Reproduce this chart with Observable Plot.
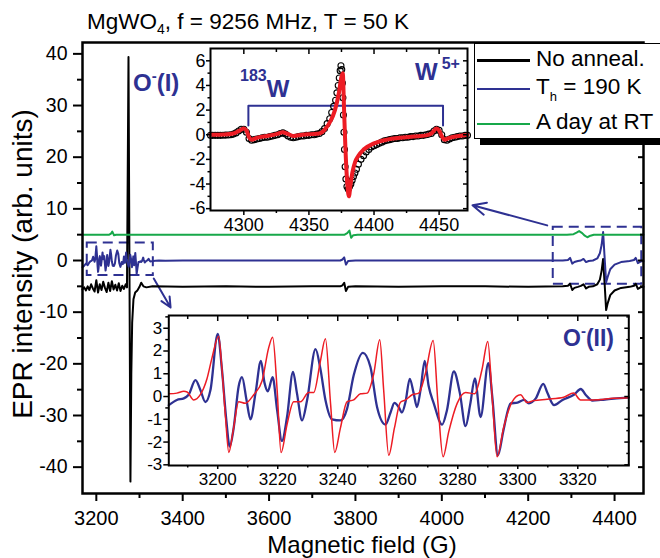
<!DOCTYPE html>
<html>
<head>
<meta charset="utf-8">
<script src="https://cdn.jsdelivr.net/npm/d3@7"></script>
<script src="https://cdn.jsdelivr.net/npm/@observablehq/plot@0.6"></script>
<style>
  html, body { margin: 0; padding: 0; background: #fff; }
  #chart { position: relative; width: 660px; height: 558px; overflow: hidden; background: #fff;
           font-family: "Liberation Sans", Arial, Helvetica, sans-serif; color: #000; }
  #chart svg { position: absolute; }
  .ov { position: absolute; white-space: nowrap; line-height: 1; z-index: 5; }
  .navy { color: #2e3192; font-weight: bold; }
  .legline { position: absolute; height: 2.5px; z-index: 6; }
</style>
</head>
<body>
<div id="chart"></div>
<script>
// ---------------- main panel ----------------
const xMajor = [3200, 3400, 3600, 3800, 4000, 4200, 4400];
const xMinor = [3300, 3500, 3700, 3900, 4100, 4300];
const yMajor = [-40, -30, -20, -10, 0, 10, 20, 30, 40];
const yMinor = [-35, -25, -15, -5, 5, 15, 25, 35];

const seriesNames = ["No anneal.", "T", "A day at RT"];

const blackField = [3168, 3172, 3176, 3180, 3184, 3188, 3192, 3196, 3200, 3204, 3208, 3212, 3216, 3220, 3224, 3228, 3232, 3236, 3240, 3244, 3248, 3252, 3256, 3260, 3264, 3268, 3271, 3274.5, 3279, 3281, 3283, 3286, 3290, 3295, 3300, 3304, 3309, 3316, 3330, 3400, 3500, 3600, 3700, 3765, 3770, 3774, 3778, 3783, 3800, 3900, 4000, 4100, 4200, 4280, 4292, 4297, 4302, 4307, 4315, 4322, 4328, 4334, 4340, 4350, 4360, 4366, 4370, 4373.5, 4377, 4380.5, 4384, 4390, 4400, 4415, 4435, 4445, 4449, 4454, 4460, 4467];
const blackSignal = [-5.6, -5.2, -5.8, -5.0, -5.7, -4.6, -5.4, -6.0, -3.8, -6.2, -4.6, -5.7, -4.1, -5.3, -6.1, -4.3, -5.9, -4.0, -5.6, -4.7, -5.8, -4.4, -5.9, -4.9, -5.5, -4.6, -5.2, 39.4, -42.8, -22, -12, -7.5, -6.2, -5.8, -5.1, -4.3, -5.0, -5.2, -5.0, -5.1, -5.0, -5.1, -5.0, -5.0, -4.8, -4.3, -5.9, -5.1, -5.0, -5.1, -5.0, -5.0, -5.1, -5.0, -4.9, -4.5, -5.7, -5.3, -5.1, -4.9, -4.6, -5.4, -5.1, -5.0, -4.6, -3.7, -2.0, 0.3, -4.5, -9.6, -8.3, -6.7, -5.8, -5.3, -5.1, -4.9, -4.5, -5.5, -5.2, -5.1];

const blueLeadField = [3168, 3172, 3176, 3180];
const blueLeadSignal = [-1.3, -1.0, -0.6, -0.9];
const blueTailField = [3345, 3360, 3400, 3500, 3600, 3700, 3765, 3770, 3774, 3778, 3783, 3800, 3900, 4000, 4100, 4200, 4280, 4292, 4297, 4302, 4307, 4315, 4322, 4328, 4334, 4340, 4350, 4360, 4366, 4370, 4373.5, 4377, 4380.5, 4384, 4390, 4400, 4415, 4435, 4445, 4449, 4454, 4460, 4467];
const blueTailSignal = [0.0, -0.05, 0.0, 0.0, 0.0, 0.0, 0.0, 0.2, 0.6, -0.8, -0.1, 0.0, 0.0, 0.0, 0.0, 0.0, 0.0, 0.1, 0.5, -0.6, -0.3, -0.1, 0.0, 0.3, -0.3, -0.1, 0.0, 0.4, 1.4, 3.0, 5.5, 0.5, -4.2, -3.2, -1.7, -0.8, -0.3, -0.1, 0.1, 0.5, -0.5, -0.2, -0.1];

const greenField = [3168, 3200, 3230, 3234, 3237, 3241, 3246, 3300, 3400, 3500, 3600, 3700, 3775, 3781, 3786, 3790, 3795, 3805, 3900, 4000, 4100, 4200, 4290, 4305, 4312, 4318, 4325, 4331, 4337, 4344, 4352, 4400, 4467];
const greenSignal = [5.0, 5.0, 5.0, 5.2, 5.6, 4.9, 5.0, 5.0, 5.0, 5.0, 5.0, 5.0, 5.0, 5.3, 5.8, 4.4, 4.9, 5.0, 5.0, 5.0, 5.0, 5.0, 5.0, 5.1, 5.4, 5.7, 5.3, 4.8, 4.5, 4.8, 5.0, 5.0, 5.0];

// dashed zoom boxes and arrows (data coordinates of the main panel)
const boxX1 = [3179, 4258];
const boxX2 = [3332, 4463];
const boxY1 = [-2.9, -4.6];
const boxY2 = [3.4, 6.45];
const arrowX1 = [3333, 4244];
const arrowY1 = [-3.5, 6.8];
const arrowX2 = [3372, 4071];
const arrowY2 = [-9.1, 10.7];

// ---------------- upper inset (W5+) ----------------
const upXMajor = [4300, 4350, 4400, 4450];
const upXMinor = [4325, 4375, 4425];
const upYMajor = [-6, -4, -2, 0, 2, 4, 6];
const upYMinor = [-5, -3, -1, 1, 3, 5];

const expField = [4274.4, 4276, 4278, 4280, 4282, 4284, 4286, 4288, 4290, 4292, 4294, 4296, 4298, 4300, 4302, 4304, 4306, 4308, 4310, 4312, 4314, 4316, 4318, 4320, 4322, 4324, 4326, 4328, 4330, 4332, 4334, 4336, 4338, 4340, 4342, 4344, 4346, 4348, 4350, 4352, 4354, 4356, 4358, 4360, 4362, 4364, 4366, 4367.5, 4369, 4370.5, 4371.5, 4372.5, 4373.3, 4374, 4374.6, 4375.2, 4375.7, 4376.1, 4376.5, 4376.9, 4377.3, 4377.8, 4378.4, 4379.2, 4380.2, 4381.2, 4382.2, 4383.2, 4384.2, 4385.3, 4386.5, 4388, 4390, 4392, 4394, 4396, 4398, 4400, 4402, 4404, 4406, 4408, 4410, 4412, 4414, 4416, 4418, 4420, 4422, 4424, 4426, 4428, 4430, 4432, 4434, 4436, 4438, 4440, 4442, 4444, 4446, 4448, 4450, 4452, 4454, 4456, 4458, 4460, 4462, 4464, 4466, 4468, 4470, 4471.8];
const expSignal = [-0.05, -0.05, -0.05, -0.05, -0.05, -0.04, -0.03, -0.02, 0.0, 0.05, 0.15, 0.3, 0.45, 0.45, 0.2, -0.3, -0.45, -0.4, -0.35, -0.3, -0.25, -0.2, -0.2, -0.15, -0.1, -0.05, 0.0, 0.1, 0.15, 0.05, -0.1, -0.2, -0.25, -0.2, -0.15, -0.1, -0.1, -0.05, -0.05, 0.0, 0.0, 0.05, 0.1, 0.25, 0.5, 0.9, 1.3, 1.8, 2.3, 2.8, 3.4, 4.0, 4.6, 5.2, 5.6, 5.3, 4.2, 3.0, 1.6, 0.2, -1.2, -2.6, -3.6, -4.2, -4.4, -4.2, -4.0, -3.7, -3.4, -3.1, -2.8, -2.4, -2.0, -1.7, -1.4, -1.2, -1.0, -0.9, -0.8, -0.7, -0.6, -0.5, -0.45, -0.4, -0.35, -0.3, -0.3, -0.25, -0.25, -0.2, -0.2, -0.15, -0.15, -0.1, -0.1, -0.05, -0.05, 0.0, 0.05, 0.1, 0.3, 0.45, 0.35, 0.0, -0.4, -0.45, -0.35, -0.25, -0.2, -0.15, -0.1, -0.1, -0.05, -0.05];

const fitField = [4274.4, 4285, 4292, 4297, 4300, 4302, 4304, 4306, 4310, 4318, 4325, 4330, 4333, 4338, 4345, 4352, 4358, 4362, 4366, 4370, 4373, 4375, 4376, 4377, 4378, 4379.5, 4380.7, 4382, 4383.5, 4385.5, 4388, 4392, 4400, 4410, 4420, 4430, 4440, 4444, 4448, 4450, 4452, 4454, 4458, 4465, 4471.8];
const fitSignal = [0.0, 0.02, 0.1, 0.35, 0.5, 0.35, -0.2, -0.4, -0.25, -0.1, 0.05, 0.2, 0.1, -0.1, 0.0, 0.05, 0.1, 0.4, 1.0, 2.0, 3.4, 4.7, 5.0, 2.0, -1.0, -4.0, -5.0, -4.0, -3.0, -2.2, -1.7, -1.2, -0.7, -0.4, -0.25, -0.15, -0.05, 0.1, 0.5, 0.35, -0.1, -0.4, -0.25, -0.1, 0.0];

const bracketField = [4303.5, 4303.5, 4453, 4453];
const bracketSignal = [0.75, 2.35, 2.35, 0.75];

// ---------------- lower inset (O-(II)) ----------------
const loXMajor = [3200, 3220, 3240, 3260, 3280, 3300, 3320];
const loXMinor = [3190, 3210, 3230, 3250, 3270, 3290, 3310, 3330];
const loYMajor = [-3, -2, -1, 0, 1, 2, 3];
const loYMinor = [-2.5, -1.5, -0.5, 0.5, 1.5, 2.5, 3.5];

const insetBlueField = [3183.7, 3186.4, 3188.7, 3190.3, 3192.6, 3194.2, 3195.9, 3197.6, 3200, 3201.4, 3202.9, 3204, 3205.3, 3207, 3208.1, 3209.6, 3210.9, 3212.6, 3214.4, 3215.6, 3216.7, 3218.3, 3219.8, 3221.4, 3223.1, 3225.1, 3226.4, 3228.1, 3229.8, 3232.6, 3234.2, 3235.9, 3238.1, 3240.9, 3243.1, 3245.3, 3248.4, 3250.9, 3253.1, 3255.9, 3257.6, 3258.9, 3260.3, 3261.4, 3262.6, 3264, 3265.3, 3266.4, 3267.6, 3269, 3270.3, 3272, 3274.8, 3276.4, 3278.7, 3280.7, 3282.6, 3284.2, 3285.7, 3287.6, 3290.2, 3291.5, 3293.4, 3295.2, 3297.6, 3299.9, 3302.1, 3303.7, 3306, 3308.5, 3309.9, 3312.1, 3314.9, 3318.7, 3321, 3322.6, 3324.9, 3327.6, 3332.1, 3337];
const insetBlueSignal = [-0.38, -0.15, -0.08, 0.08, 0.72, 0.3, -0.24, 0.3, 2.75, 1.2, -1.08, -2.2, -1.4, 0.46, 0.85, -0.15, -1.0, 0.15, 1.57, 0.6, 0.23, 0.85, -0.6, -1.95, -0.9, 1.08, 0.15, -1.05, -0.15, 2.08, 1.23, -0.15, -1.0, -1.05, -0.54, 0.92, 1.92, 1.3, -0.46, -1.23, -0.7, -0.28, -0.46, -0.7, -0.23, 0.78, 0.15, -0.46, 0.3, 1.57, 0.46, -0.3, -1.23, -0.6, 1.1, 0.15, -1.3, -0.3, 0.8, -0.9, 1.47, 0, -2.58, -1.5, -0.3, -0.27, -0.15, -0.3, -0.08, 0.56, 0.15, -0.38, -0.15, 0.08, 0.33, 0.08, -0.18, -0.15, -0.09, -0.05];

const simField = [3183.7, 3186.4, 3188.7, 3189.8, 3192, 3194.2, 3196.4, 3198.1, 3200.3, 3201.4, 3202.6, 3203.7, 3205.1, 3207, 3209.2, 3212, 3214.8, 3217, 3218.3, 3219.8, 3221.1, 3223.1, 3225.3, 3227.6, 3230.3, 3232, 3234.2, 3235.9, 3237.6, 3239, 3240.9, 3243.1, 3245.3, 3247.6, 3249.8, 3252, 3254, 3255.3, 3257, 3258.9, 3260.9, 3262.6, 3264.8, 3267, 3269.2, 3271.8, 3273.4, 3275.1, 3277, 3279.8, 3282.6, 3285.6, 3288.1, 3290, 3291.6, 3293.1, 3295.3, 3298.1, 3300.9, 3303.1, 3305.3, 3309.8, 3315.3, 3318.6, 3320.9, 3325.3, 3332, 3337];
const simSignal = [0.12, 0.15, 0.23, 0.2, -0.15, 0.08, 0.77, 1.7, 2.65, 1.23, -0.92, -2.46, -1.54, -0.23, -0.3, 0.08, 0.69, 2.15, 2.6, 0.3, -2.46, -1.23, -0.23, -0.23, 0.18, 0.18, 1.54, 2.54, -0.3, -2.46, -1.38, -0.23, -0.15, 0.12, 0.15, 1.0, 2.49, 0.3, -2.58, -1.38, -0.25, -0.15, 0.08, 0.15, 1.0, 2.46, -0.3, -2.65, -1.54, -0.3, 0.18, 0.12, 1.2, 2.42, -0.3, -2.65, -1.36, -0.23, 0.08, -0.26, -0.18, -0.12, -0.03, 0.15, -0.15, -0.15, -0.08, -0.05];

// ---------------- build ----------------
const FONT = '"Liberation Sans", Arial, Helvetica, sans-serif';
const NAVY = "#2e3192", RED = "#ed1c24", GREEN = "#17a84a";
const rows = (xs, ys) => xs.map((x, i) => ({x, y: ys[i]}));
const str = d => String(d);
const blank = () => "";

const black = rows(blackField, blackSignal);
const blueMain = rows(blueLeadField.concat(insetBlueField, blueTailField), blueLeadSignal.concat(insetBlueSignal, blueTailSignal));
const green = rows(greenField, greenSignal);
const boxes = boxX1.map((d, i) => ({x1: d, x2: boxX2[i], y1: boxY1[i], y2: boxY2[i]}));
const arrows = arrowX1.map((d, i) => ({x1: d, y1: arrowY1[i], x2: arrowX2[i], y2: arrowY2[i]}));

const chart = document.getElementById("chart");
function place(el, left, top) { el.style.left = left + "px"; el.style.top = top + "px"; chart.appendChild(el); }

const main = Plot.plot({
  width: 660, height: 558,
  marginLeft: 82, marginRight: 17, marginTop: 42, marginBottom: 65,
  x: {domain: [3168, 4467]},
  y: {domain: [-45.1, 42.2]},
  style: {fontFamily: FONT, background: "transparent", color: "black"},
  marks: [
    Plot.rect(boxes, {x1: "x1", x2: "x2", y1: "y1", y2: "y2", fill: "none", stroke: NAVY, strokeWidth: 2, strokeDasharray: "10,6"}),
    Plot.arrow(arrows, {x1: "x1", y1: "y1", x2: "x2", y2: "y2", stroke: NAVY, strokeWidth: 2, headLength: 11, headAngle: 50}),
    Plot.line(black, {x: "x", y: "y", stroke: "black", strokeWidth: 2}),
    Plot.line(blueMain, {x: "x", y: "y", stroke: NAVY, strokeWidth: 2}),
    Plot.line(green, {x: "x", y: "y", stroke: GREEN, strokeWidth: 2}),
    Plot.frame({stroke: "black", strokeWidth: 2.5}),
    Plot.axisX(xMajor, {anchor: "bottom", tickSize: 8, tickPadding: 9, strokeWidth: 2, fontSize: 20, tickFormat: str, label: null}),
    Plot.axisX(xMinor, {anchor: "bottom", tickSize: 5, strokeWidth: 2, tickFormat: blank, label: null}),
    Plot.axisY(yMajor, {anchor: "left", tickSize: 9, tickPadding: 6, strokeWidth: 2, fontSize: 19.5, tickFormat: str, label: null}),
    Plot.axisY(yMinor, {anchor: "left", tickSize: 5, strokeWidth: 2, tickFormat: blank, label: null}),
    Plot.axisY(yMajor, {anchor: "right", tickSize: 6, dx: -6, strokeWidth: 2, tickFormat: blank, label: null}),
    Plot.axisY(yMinor, {anchor: "right", tickSize: 4, dx: -4, strokeWidth: 2, tickFormat: blank, label: null})
  ]
});
place(main, 0, 0);

const upper = Plot.plot({
  width: 320, height: 200,
  marginLeft: 50, marginTop: 10, marginRight: 13, marginBottom: 28,
  x: {domain: [4274.4, 4471.8]},
  y: {domain: [-6.15, 7.0]},
  style: {fontFamily: FONT, background: "transparent", color: "black", overflow: "visible"},
  marks: [
    Plot.frame({fill: "white", stroke: "none"}),
    Plot.line(rows(bracketField, bracketSignal), {x: "x", y: "y", stroke: NAVY, strokeWidth: 2}),
    Plot.dot(rows(expField, expSignal), {x: "x", y: "y", r: 3, fill: "none", stroke: "black", strokeWidth: 1.1}),
    Plot.line(rows(fitField, fitSignal), {x: "x", y: "y", stroke: RED, strokeWidth: 4, curve: "monotone-x"}),
    Plot.frame({stroke: "black", strokeWidth: 2}),
    Plot.axisX(upXMajor, {anchor: "bottom", tickSize: 5, tickPadding: 3, strokeWidth: 1.5, fontSize: 18, tickFormat: str, label: null}),
    Plot.axisX(upXMinor, {anchor: "bottom", tickSize: 3, strokeWidth: 1.5, tickFormat: blank, label: null}),
    Plot.axisX(upXMajor, {anchor: "top", tickSize: 5, dy: 5, strokeWidth: 1.5, tickFormat: blank, label: null}),
    Plot.axisX(upXMinor, {anchor: "top", tickSize: 3, dy: 3, strokeWidth: 1.5, tickFormat: blank, label: null}),
    Plot.axisY(upYMajor, {anchor: "left", tickSize: 4, tickPadding: 1, strokeWidth: 1.5, fontSize: 18, tickFormat: str, label: null}),
    Plot.axisY(upYMinor, {anchor: "left", tickSize: 2.5, strokeWidth: 1.5, tickFormat: blank, label: null}),
    Plot.axisY(upYMajor, {anchor: "right", tickSize: 5, dx: -5, strokeWidth: 1.5, tickFormat: blank, label: null}),
    Plot.axisY(upYMinor, {anchor: "right", tickSize: 3, dx: -3, strokeWidth: 1.5, tickFormat: blank, label: null})
  ]
});
place(upper, 160, 38);

const lower = Plot.plot({
  width: 520, height: 185,
  marginLeft: 48.3, marginTop: 10, marginRight: 11.7, marginBottom: 25,
  x: {domain: [3183.7, 3337]},
  y: {domain: [-3.03, 3.56]},
  style: {fontFamily: FONT, background: "transparent", color: "black", overflow: "visible"},
  marks: [
    Plot.frame({fill: "white", stroke: "none"}),
    Plot.line(rows(insetBlueField, insetBlueSignal), {x: "x", y: "y", stroke: NAVY, strokeWidth: 2.3, curve: "monotone-x"}),
    Plot.line(rows(simField, simSignal), {x: "x", y: "y", stroke: RED, strokeWidth: 1.5, curve: "monotone-x"}),
    Plot.frame({stroke: "black", strokeWidth: 2}),
    Plot.axisX(loXMajor, {anchor: "bottom", tickSize: 4, tickPadding: 3, strokeWidth: 1.5, fontSize: 17, tickFormat: str, label: null}),
    Plot.axisX(loXMinor, {anchor: "bottom", tickSize: 2.5, strokeWidth: 1.5, tickFormat: blank, label: null}),
    Plot.axisX(loXMajor, {anchor: "top", tickSize: 5, dy: 5, strokeWidth: 1.5, tickFormat: blank, label: null}),
    Plot.axisX(loXMinor, {anchor: "top", tickSize: 3, dy: 3, strokeWidth: 1.5, tickFormat: blank, label: null}),
    Plot.axisY(loYMajor, {anchor: "left", tickSize: 5, tickPadding: 1.5, strokeWidth: 1.5, fontSize: 17, tickFormat: str, label: null}),
    Plot.axisY(loYMinor, {anchor: "left", tickSize: 3, strokeWidth: 1.5, tickFormat: blank, label: null}),
    Plot.axisY(loYMajor, {anchor: "right", tickSize: 5, dx: -5, strokeWidth: 1.5, tickFormat: blank, label: null}),
    Plot.axisY(loYMinor, {anchor: "right", tickSize: 3, dx: -3, strokeWidth: 1.5, tickFormat: blank, label: null})
  ]
});
place(lower, 120, 305);

// ---------------- text overlays & legend ----------------
function ov(html, left, top, size, extraClass, extraStyle) {
  const d = document.createElement("div");
  d.className = "ov" + (extraClass ? " " + extraClass : "");
  d.innerHTML = html;
  d.style.fontSize = size + "px";
  if (extraStyle) d.setAttribute("style", d.getAttribute("style") + ";" + extraStyle);
  place(d, left, top);
  return d;
}
// title
ov('MgWO<span style="font-size:14px;position:relative;top:5px">4</span>, f = 9256 MHz, T = 50 K', 87, 10.5, 22.5);
// axis titles
ov("Magnetic field (G)", 362, 533, 24, "", "transform:translateX(-50%)");
ov("EPR intensity (arb. units)", 23, 264, 28, "", "transform:translate(-50%,-50%) rotate(-90deg)");
// annotations
ov('O<span style="font-size:15px;position:relative;top:-10px">-</span>(I)', 133, 71.4, 24, "navy");
ov('O<span style="font-size:15px;position:relative;top:-10px">-</span>(II)', 563, 327, 23, "navy");
ov("183", 240, 68, 16, "navy");
ov("W", 266.7, 76.7, 24, "navy");
ov("W", 415, 60.2, 24, "navy");
ov("5+", 441.7, 56, 16, "navy");

// legend box
const box = document.createElement("div");
box.style.cssText = "position:absolute;width:200px;height:94px;border:1.5px solid #000;background:#fff;box-shadow:6px 6px 0 #000;z-index:4;";
place(box, 474, 43);
const legColors = ["#000", NAVY, GREEN];
const legLineY = [59, 87.5, 122.5];
legColors.forEach((c, i) => {
  const l = document.createElement("div");
  l.className = "legline";
  l.style.width = "53px";
  l.style.background = c;
  place(l, 477, legLineY[i]);
});
ov(seriesNames[0], 536, 48.3, 22.5);
ov(seriesNames[1] + '<span style="font-size:13px;position:relative;top:7px">h</span> = 190 K', 536, 76, 22.5);
ov(seriesNames[2], 536, 111, 22.5);
</script>
</body>
</html>
